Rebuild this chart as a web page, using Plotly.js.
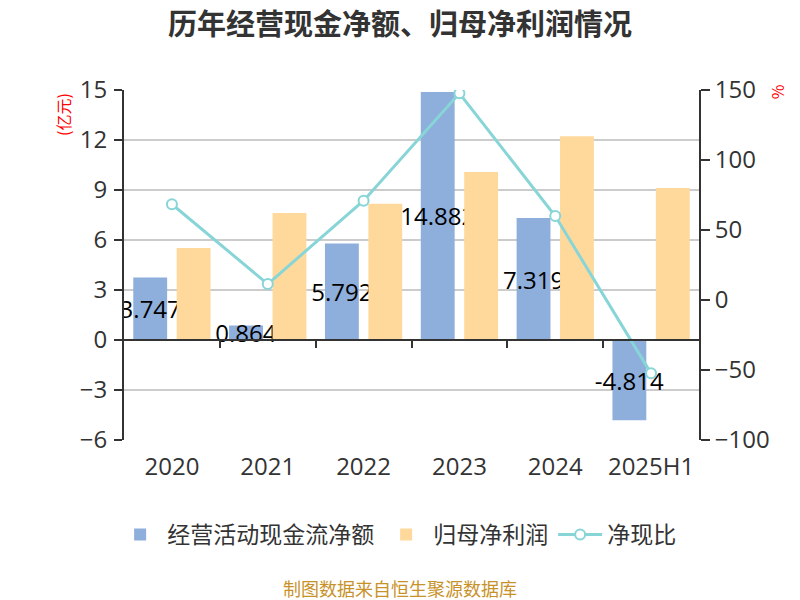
<!DOCTYPE html>
<html>
<head>
<meta charset="utf-8">
<script src="https://cdn.plot.ly/plotly-3.0.1.min.js"></script>
<style>html,body{margin:0;padding:0;background:#fff;}#chart{width:800px;height:600px;}</style>
</head>
<body>
<div id="chart"></div>
<script>
const categories = ['2020', '2021', '2022', '2023', '2024', '2025H1'];
const cashFlow = [3.747, 0.864, 5.792, 14.882, 7.319, -4.814];
const netProfit = [5.52, 7.62, 8.18, 10.08, 12.22, 9.12];
const cashRatio = [68.4, 11.4, 70.9, 147.6, 60.0, -52.4];
const seriesNames = ['经营活动现金流净额', '归母净利润', '净现比'];

const FONT = '"Open Sans", "Noto Sans CJK SC", sans-serif';
const CJK = '"Noto Sans CJK SC", sans-serif';
const AX = '#333333';

const traces = [
  {
    type: 'bar', name: seriesNames[0], x: categories, y: cashFlow,
    marker: {color: '#8eaedb'},
    text: cashFlow.map(v => String(v)),
    textposition: 'inside', insidetextanchor: 'middle', textangle: 0,
    constraintext: 'none',
    textfont: {color: '#000000', size: 24, family: FONT},
    hoverinfo: 'none'
  },
  {
    type: 'bar', name: seriesNames[1], x: categories, y: netProfit,
    marker: {color: '#fed99b'},
    hoverinfo: 'none'
  },
  {
    type: 'scatter', mode: 'lines+markers', name: seriesNames[2],
    x: categories, y: cashRatio, yaxis: 'y2',
    line: {color: '#88d5d8', width: 3},
    marker: {size: 10, color: '#ffffff', line: {color: '#88d5d8', width: 2}},
    hoverinfo: 'none'
  },
  {
    // carrier for the category axis drawn along the zero line
    type: 'scatter', mode: 'none', x: [], y: [], xaxis: 'x2',
    showlegend: false, hoverinfo: 'skip'
  }
];

const layout = {
  width: 800, height: 600,
  paper_bgcolor: '#ffffff', plot_bgcolor: '#ffffff',
  margin: {l: 124, r: 101, t: 90, b: 160},
  font: {family: FONT, color: AX},
  title: {
    text: '<b>历年经营现金净额、归母净利润情况</b>',
    x: 0.5, xanchor: 'center', y: 0.958, yanchor: 'middle',
    font: {size: 29, color: '#333333', family: CJK}
  },
  barmode: 'group', bargap: 0.094, bargroupgap: 0.22,
  showlegend: true,
  legend: {
    orientation: 'h', x: 0.475, xanchor: 'center',
    y: -0.27, yanchor: 'middle',
    font: {size: 23, color: '#333333', family: CJK},
    itemwidth: 44
  },
  xaxis: {
    type: 'category', showline: false, ticks: '', showgrid: false, zeroline: false,
    tickfont: {size: 24, color: AX}, ticklabelstandoff: 10
  },
  xaxis2: {
    overlaying: 'x', anchor: 'free', position: 6 / 21, side: 'bottom',
    range: [-0.5, categories.length - 0.5], type: 'linear',
    tickmode: 'array', tickvals: categories.slice(1).map((_, i) => i + 0.5),
    showticklabels: false, ticks: 'outside', ticklen: 7, tickwidth: 2, tickcolor: AX,
    showline: true, linecolor: AX, linewidth: 2, showgrid: false, zeroline: false
  },
  yaxis: {
    range: [-6, 15], tickmode: 'linear', tick0: -6, dtick: 3,
    showline: true, linecolor: AX, linewidth: 2,
    ticks: 'outside', ticklen: 8, tickwidth: 2, tickcolor: AX,
    showgrid: true, gridcolor: '#cccccc', gridwidth: 1.5, zeroline: false,
    tickfont: {size: 24, color: AX}, ticklabelstandoff: 2
  },
  yaxis2: {
    overlaying: 'y', side: 'right', range: [-100, 150], tickmode: 'linear', tick0: -100, dtick: 50,
    showline: true, linecolor: AX, linewidth: 2,
    ticks: 'outside', ticklen: 9, tickwidth: 2, tickcolor: AX,
    showgrid: false, zeroline: false,
    tickfont: {size: 24, color: AX}
  },
  annotations: [
    {text: '(亿元)', xref: 'paper', yref: 'paper', x: -0.106, y: 0.929, textangle: -90,
     xanchor: 'center', yanchor: 'middle',
     showarrow: false, font: {size: 16, color: '#ff0000', family: CJK}},
    {text: '%', xref: 'paper', yref: 'paper', x: 1.136, y: 0.994, textangle: -90,
     xanchor: 'center', yanchor: 'middle',
     showarrow: false, font: {size: 16, color: '#ff0000', family: CJK}},
    {text: '制图数据来自恒生聚源数据库', xref: 'paper', yref: 'paper', x: 0.48, y: -0.423,
     xanchor: 'center', yanchor: 'middle',
     showarrow: false, font: {size: 18, color: '#c8922a', family: CJK}}
  ]
};

Plotly.newPlot('chart', traces, layout, {displayModeBar: false, staticPlot: true});
</script>
</body>
</html>
